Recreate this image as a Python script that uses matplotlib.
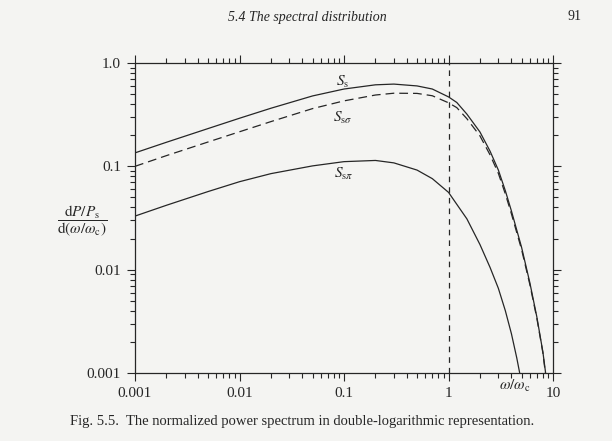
import matplotlib.pyplot as plt
from matplotlib.ticker import LogLocator, NullFormatter

plt.rcParams['font.family'] = ['Liberation Serif', 'DejaVu Serif']
plt.rcParams['mathtext.fontset'] = 'stix'

# Valores (omega/omega_c, dP/Ps / d(omega/omega_c))
x_s = [0.001, 0.002, 0.005, 0.01, 0.02, 0.05, 0.1, 0.2, 0.3, 0.5, 0.7, 1.0, 1.2, 1.5,
       2.0, 2.5, 3.0, 3.5, 4.0, 5.0, 6.0, 7.0, 8.0, 8.5]
s_s = [0.135, 0.171, 0.232, 0.292, 0.365, 0.480, 0.560, 0.615, 0.625, 0.600, 0.560, 0.470, 0.415, 0.320,
       0.215, 0.140, 0.092, 0.058, 0.037, 0.0165, 0.0075, 0.0035, 0.0016, 0.001]

x_sigma = [0.001, 0.002, 0.005, 0.01, 0.02, 0.05, 0.1, 0.2, 0.3, 0.5, 0.7, 1.0, 1.2, 1.5,
           2.0, 2.5, 3.0, 3.5, 4.0, 5.0, 6.0, 7.0, 8.0, 8.45]
s_sigma = [0.100, 0.127, 0.172, 0.216, 0.271, 0.362, 0.430, 0.490, 0.510, 0.508, 0.482, 0.412, 0.370, 0.289,
           0.197, 0.129, 0.0855, 0.054, 0.0347, 0.0157, 0.0072, 0.0034, 0.00157, 0.001]

x_pi = [0.001, 0.002, 0.005, 0.01, 0.02, 0.05, 0.1, 0.2, 0.3, 0.5, 0.7, 1.0, 1.5,
        2.0, 2.5, 3.0, 3.5, 4.0, 4.5, 4.8]
s_pi = [0.033, 0.042, 0.057, 0.071, 0.085, 0.101, 0.111, 0.114, 0.108, 0.092, 0.076, 0.056, 0.031,
        0.0175, 0.0105, 0.0066, 0.0040, 0.0024, 0.0014, 0.001]

x_ticks = [0.001, 0.01, 0.1, 1, 10]
x_tick_labels = ['0.001', '0.01', '0.1', '1', '10']
y_ticks = [0.001, 0.01, 0.1, 1.0]
y_tick_labels = ['0.001', '0.01', '0.1', '1.0']

fondo = '#f4f4f2'
tinta = '#262626'

fig = plt.figure(figsize=(6.12, 4.41), dpi=100, facecolor=fondo)
ax = fig.add_axes([135 / 612, 1 - 373 / 441, (553 - 135) / 612, (373 - 63) / 441])
ax.set_facecolor(fondo)

# Curvas
ax.plot(x_s, s_s, color=tinta, lw=0.9)
ax.plot(x_sigma, s_sigma, color=tinta, lw=0.9, dashes=(7, 4))
ax.plot(x_pi, s_pi, color=tinta, lw=0.9)
ax.axvline(1, color=tinta, lw=0.9, dashes=(4.5, 4))

ax.set_xscale('log')
ax.set_yscale('log')
ax.set_xlim(0.001, 10)
ax.set_ylim(0.001, 1.0)
ax.set_xticks(x_ticks, x_tick_labels)
ax.set_yticks(y_ticks, y_tick_labels)
for eje in (ax.xaxis, ax.yaxis):
    eje.set_minor_locator(LogLocator(base=10, subs=range(2, 10)))
    eje.set_minor_formatter(NullFormatter())

ax.tick_params(which='both', direction='out', top=True, right=True,
               labeltop=False, labelright=False, color=tinta, width=0.8,
               labelsize=11, pad=4, labelcolor=tinta)
ax.tick_params(which='major', length=6)
ax.tick_params(which='minor', length=3.5)
for sp in ax.spines.values():
    sp.set_color(tinta)
    sp.set_linewidth(0.9)

# Etiquetas de las curvas
ax.text(0.098, 0.655, r'$S_\mathrm{s}$', ha='center', va='center', fontsize=11, color=tinta)
ax.text(0.098, 0.294, r'$S_{\mathrm{s}\sigma}$', ha='center', va='center', fontsize=11, color=tinta)
ax.text(0.1, 0.084, r'$S_{\mathrm{s}\pi}$', ha='center', va='center', fontsize=11, color=tinta)

ax.text(4.33, -0.042, r'$\omega/\omega_\mathrm{c}$', transform=ax.get_xaxis_transform(),
        ha='center', va='center', fontsize=11, color=tinta)
fig.text(82 / 612, 1 - 221 / 441,
         r'$\dfrac{\mathrm{d}P/P_\mathrm{s}}{\mathrm{d}(\omega/\omega_\mathrm{c})}$',
         ha='center', va='center', fontsize=11, color=tinta)

# Cabecera y pie de página
fig.text(307 / 612, 1 - 17 / 441, '5.4 The spectral distribution', style='italic',
         ha='center', va='center', fontsize=10, color=tinta)
fig.text(574 / 612, 1 - 17 / 441, '91', ha='center', va='center', fontsize=10, color=tinta)
fig.text(70 / 612, 1 - 422 / 441,
         'Fig. 5.5.  The normalized power spectrum in double-logarithmic representation.',
         ha='left', va='center', fontsize=10.5, color=tinta)

fig.savefig('out.png', dpi=100, facecolor=fondo)
